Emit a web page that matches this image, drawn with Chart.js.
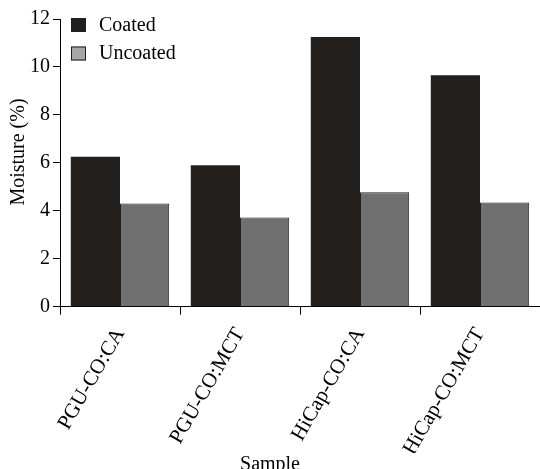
<!DOCTYPE html>
<html>
<head>
<meta charset="utf-8">
<script src="https://cdn.jsdelivr.net/npm/chart.js@4.4.1/dist/chart.umd.min.js"></script>
<style>
  html, body { margin: 0; padding: 0; background: #fff; }
</style>
</head>
<body>
<canvas id="myChart" width="540" height="469"></canvas>
<script>
const samples = ["PGU-CO:CA", "PGU-CO:MCT", "HiCap-CO:CA", "HiCap-CO:MCT"];
const coated = [6.25, 5.9, 11.25, 9.65];
const uncoated = [4.3, 3.72, 4.77, 4.35];
const seriesNames = ["Coated", "Uncoated"];
const yTitle = "Moisture (%)";

const serif = "'Liberation Serif', 'Times New Roman', serif";
const dark = "#231f1c";

// legend in the top-left corner and the y title, drawn by hand so they sit where the original has them
const cornerLegend = {
    id: "cornerLegend",
    afterDraw: (chart) => {
        const ctx = chart.ctx;
        const swatches = ["#231f1c", "#a6a6a6"];
        ctx.save();
        ctx.font = "20px " + serif;
        ctx.textBaseline = "middle";
        ctx.textAlign = "left";
        seriesNames.forEach((name, i) => {
            const y = 18 + i * 28.5;
            ctx.fillStyle = swatches[i];
            ctx.fillRect(71, y, 15, 14);
            ctx.strokeStyle = dark;
            ctx.lineWidth = 1;
            ctx.strokeRect(71.5, y + 0.5, 14, 13);
            ctx.fillStyle = "#000";
            ctx.fillText(name, 99, y + 7.5);
        });
        // y axis title
        ctx.translate(19, 152);
        ctx.rotate(-Math.PI / 2);
        ctx.textAlign = "center";
        ctx.fillText(yTitle, 0, 0);
        ctx.restore();
    },
};

const renderChart = () => {
    const ctx = document.getElementById("myChart");
    new Chart(ctx, {
        type: "bar",
        data: {
            labels: samples,
            datasets: [
                {
                    label: seriesNames[0],
                    data: coated,
                    backgroundColor: dark,
                    borderColor: dark,
                    borderWidth: 0,
                },
                {
                    label: seriesNames[1],
                    data: uncoated,
                    backgroundColor: "#707070",
                    borderColor: dark,
                    borderWidth: 1,
                },
            ],
        },
        plugins: [cornerLegend],
        options: {
            responsive: false,
            animation: false,
            categoryPercentage: 0.82,
            barPercentage: 1,
            layout: { padding: { top: 19, left: 0, right: 0, bottom: 0 } },
            plugins: {
                legend: { display: false },
                tooltip: { enabled: false },
                title: {
                    display: true,
                    position: "bottom",
                    text: "Sample",
                    color: "#000",
                    font: { family: serif, size: 20, weight: "normal" },
                    padding: { top: 0, bottom: -8 },
                },
            },
            scales: {
                x: {
                    offset: true,
                    grid: { offset: true, drawOnChartArea: false, tickLength: 8, color: "#000" },
                    border: { color: "#000", width: 1 },
                    ticks: {
                        color: "#000",
                        font: { family: serif, size: 21 },
                        minRotation: 60,
                        maxRotation: 60,
                        padding: 9,
                    },
                    afterFit: (s) => { s.height = 146.3; },
                },
                y: {
                    min: 0,
                    max: 12,
                    grid: { drawOnChartArea: false, tickLength: 7, color: "#000" },
                    border: { color: "#000", width: 1 },
                    ticks: {
                        stepSize: 2,
                        color: "#000",
                        font: { family: serif, size: 20 },
                        padding: 3,
                    },
                    afterFit: (s) => { s.width = 60; },
                },
            },
        },
    });
};

renderChart();
</script>
</body>
</html>
